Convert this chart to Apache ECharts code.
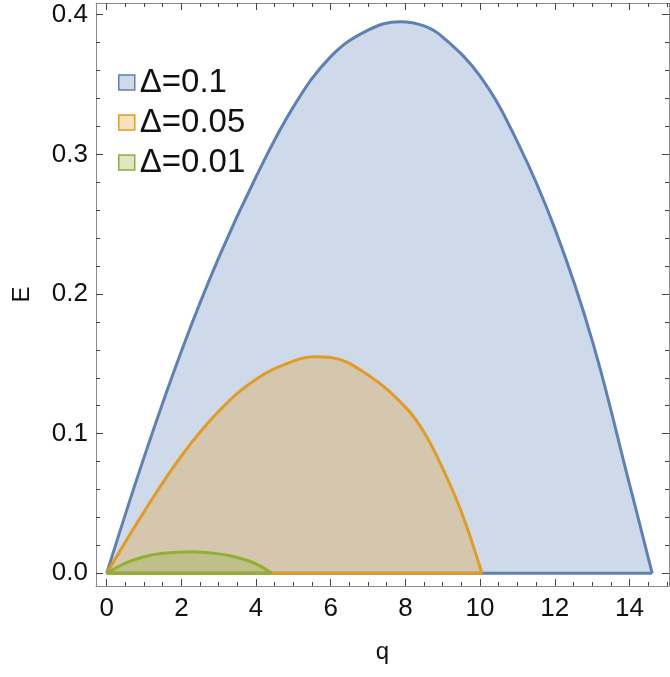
<!DOCTYPE html>
<html>
<head>
<meta charset="utf-8">
<script src="https://cdn.jsdelivr.net/npm/echarts@6/dist/echarts.min.js"></script>
<style>
  html, body { margin: 0; padding: 0; background: #fff; }
  #main { width: 670px; height: 677px; }
</style>
</head>
<body>
<div id="main"></div>
<script>
// values
const names = ['Δ=0.1', 'Δ=0.05', 'Δ=0.01']
const colors = ['#5e81b5', '#e19c24', '#8fb032']

const blueQ = [0, 1, 2, 3, 4, 5, 6, 7, 7.86, 8.5, 9, 10, 11, 12, 13, 14, 14.61]
const blueE = [0, 0.083, 0.159, 0.226, 0.284, 0.334, 0.370, 0.389, 0.395, 0.392, 0.384, 0.356, 0.309, 0.247, 0.167, 0.064, 0]
const orangeQ = [0, 1, 2, 3, 4, 5, 5.6, 6, 7, 8, 8.5, 9, 9.5, 10.05]
const orangeE = [0, 0.044, 0.084, 0.116, 0.139, 0.152, 0.155, 0.1545, 0.142, 0.119, 0.101, 0.075, 0.044, 0]
const greenQ = [0, 0.5, 1, 1.5, 2.3, 3, 3.5, 4, 4.42]
const greenE = [0, 0.0072, 0.0118, 0.0143, 0.0155, 0.0139, 0.0113, 0.0068, 0]

const xMajor = [0, 2, 4, 6, 8, 10, 12, 14]
const xMinor = [0.5, 1, 1.5, 2.5, 3, 3.5, 4.5, 5, 5.5, 6.5, 7, 7.5, 8.5, 9, 9.5, 10.5, 11, 11.5, 12.5, 13, 13.5, 14.5, 15]
const yMajor = [0, 0.1, 0.2, 0.3, 0.4]
const yMinor = [0.02, 0.04, 0.06, 0.08, 0.12, 0.14, 0.16, 0.18, 0.22, 0.24, 0.26, 0.28, 0.32, 0.34, 0.36, 0.38]

const font = 'Liberation Sans'
const frame = '#8a8a8a'
const xRange = { min: -0.287, max: 15.06 }
const yRange = { min: -0.0091, max: 0.4084 }

function axisOf(position, ticks, len, withLabel, withLine, range, fmt, margin) {
    return Object.assign({
        type: 'value', position: position,
        axisLine: { show: withLine, onZero: false, lineStyle: { color: frame, width: 1 } },
        axisTick: { show: true, inside: true, length: len, customValues: ticks, lineStyle: { color: '#444' } },
        axisLabel: withLabel
            ? { show: true, customValues: ticks, fontSize: 26, fontFamily: font, color: '#111', margin: margin, formatter: fmt }
            : { show: false },
        splitLine: { show: false }
    }, range)
}

const xs = [
    axisOf('bottom', xMajor, 7, true, true, xRange, v => String(v), 10),
    axisOf('bottom', xMinor, 4, false, false, xRange),
    axisOf('top', xMajor, 7, false, true, xRange),
    axisOf('top', xMinor, 4, false, false, xRange)
]
xs[0].name = 'q'
xs[0].nameLocation = 'middle'
xs[0].nameGap = 54
xs[0].nameTextStyle = { fontSize: 24, fontFamily: font, color: '#111' }

const ys = [
    axisOf('left', yMajor, 7, true, true, yRange, v => v.toFixed(1), 8),
    axisOf('left', yMinor, 4, false, false, yRange),
    axisOf('right', yMajor, 7, false, true, yRange),
    axisOf('right', yMinor, 4, false, false, yRange)
]
ys[0].name = 'E'
ys[0].nameLocation = 'middle'
ys[0].nameGap = 62
ys[0].nameTextStyle = { fontSize: 24, fontFamily: font, color: '#111' }

const groups = [[blueQ, blueE], [orangeQ, orangeE], [greenQ, greenE]]
const series = []
groups.forEach(([q, e], i) => {
    series.push({
        name: names[i], type: 'line', smooth: 0.4, symbol: 'none',
        data: q.map((v, k) => [v, e[k]]),
        lineStyle: { color: colors[i], width: 3 },
        itemStyle: { color: colors[i] },
        areaStyle: { color: colors[i], opacity: 0.3, origin: 0 }
    })
    // straight bottom edge of the filled region
    series.push({
        name: names[i] + ' base', type: 'line', symbol: 'none',
        data: [[q[0], 0], [q[q.length - 1], 0]],
        lineStyle: { color: colors[i], width: 3 }
    })
})

const chart = echarts.init(document.getElementById('main'))
chart.setOption({
    animation: false,
    grid: { left: 96, right: 1, top: 3, bottom: 91 },
    legend: {
        orient: 'vertical', left: 113, top: 61,
        itemWidth: 16, itemHeight: 15, itemGap: 7,
        icon: 'rect',
        textStyle: { fontSize: 33, fontFamily: font, color: '#111' },
        data: names.map((n, i) => ({
            name: n,
            itemStyle: { color: echarts.color.modifyAlpha(colors[i], 0.3), borderColor: colors[i], borderWidth: 1.5 }
        }))
    },
    xAxis: xs,
    yAxis: ys,
    series: series
})
</script>
</body>
</html>
